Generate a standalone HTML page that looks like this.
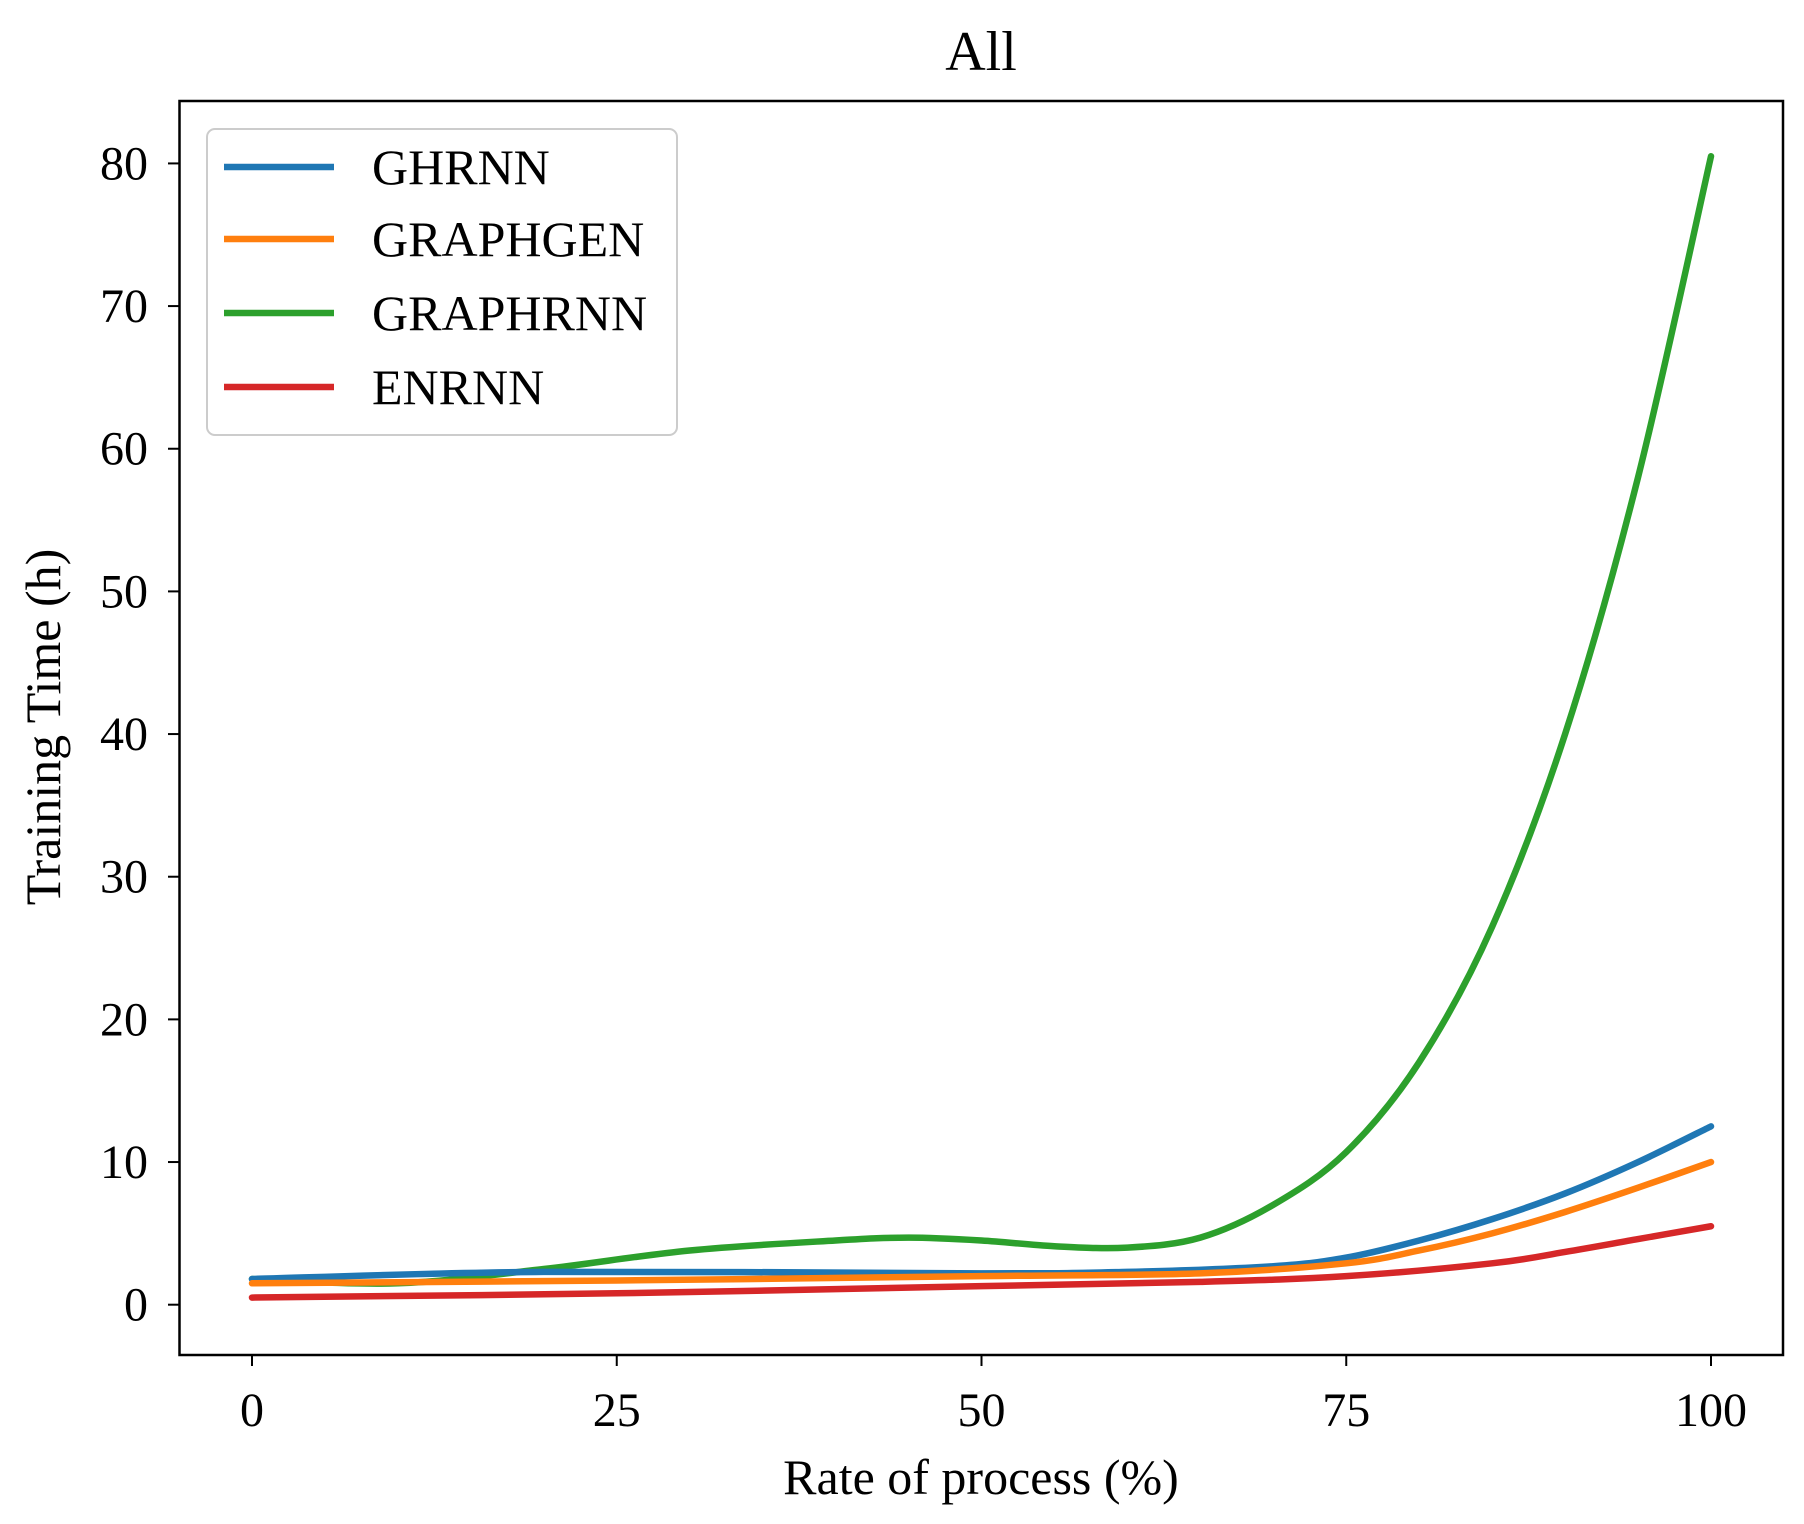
<!DOCTYPE html>
<html><head><meta charset="utf-8"><style>
html,body{margin:0;padding:0;background:#fff;}
svg{display:block;font-family:"Liberation Serif",serif;}
</style></head><body>
<svg id="s" width="1804" height="1524" viewBox="0 0 1804 1524" xmlns="http://www.w3.org/2000/svg">
<rect width="1804" height="1524" fill="#fff"/>
<text x="981" y="70" font-size="56" text-anchor="middle">All</text>
<g id="curves" fill="none" stroke-width="6.5" stroke-linecap="round"></g>
<rect x="179.5" y="101" width="1603.5" height="1254" fill="none" stroke="#000" stroke-width="2.5"/>
<g id="ticks" stroke="#000" stroke-width="2"></g>
<g id="labels" font-size="48"></g>
<text x="981" y="1494" font-size="50" text-anchor="middle">Rate of process (%)</text>
<text transform="translate(60,727) rotate(-90)" font-size="50" text-anchor="middle">Training Time (h)</text>
<rect x="207" y="129" width="470" height="306" rx="8" fill="#fff" fill-opacity="0.9" stroke="#ccc" stroke-width="2"/>
<g stroke-width="6.5">
<line x1="224" y1="167" x2="334" y2="167" stroke="#1f77b4"/>
<line x1="224" y1="239" x2="334" y2="239" stroke="#ff7f0e"/>
<line x1="224" y1="313" x2="334" y2="313" stroke="#2ca02c"/>
<line x1="224" y1="387" x2="334" y2="387" stroke="#d62728"/>
</g>
<g font-size="50">
<text x="372" y="184">GHRNN</text>
<text x="372" y="256">GRAPHGEN</text>
<text x="372" y="330">GRAPHRNN</text>
<text x="372" y="404">ENRNN</text>
</g>
</svg>
<script>
var NS="http://www.w3.org/2000/svg";
function X(v){return 252+v*14.59;}
function Y(v){return 1304.7-v*14.266;}
function path(pts){
 var P=pts.map(function(p){return [X(p[0]),Y(p[1])];});
 var d="M"+P[0][0]+","+P[0][1];
 for(var i=0;i<P.length-1;i++){
  var p0=P[i-1]||P[i],p1=P[i],p2=P[i+1],p3=P[i+2]||P[i+1];
  d+=" C"+(p1[0]+(p2[0]-p0[0])/6)+","+(p1[1]+(p2[1]-p0[1])/6)+" "+(p2[0]-(p3[0]-p1[0])/6)+","+(p2[1]-(p3[1]-p1[1])/6)+" "+p2[0]+","+p2[1];
 }
 return d;
}
var S={
"#2ca02c":[[0,1.8],[10,1.5],[20,2.5],[30,3.8],[40,4.5],[45,4.7],[50,4.5],[55,4.1],[60,4.0],[65,4.7],[70,7.0],[75,10.7],[80,17],[85,26.5],[90,40],[95,58],[100,80.5]],
"#1f77b4":[[0,1.8],[20,2.3],[50,2.2],[60,2.3],[70,2.7],[75,3.3],[80,4.5],[85,6],[90,7.8],[95,10],[100,12.5]],
"#ff7f0e":[[0,1.5],[25,1.7],[50,2.0],[65,2.2],[75,2.9],[80,3.8],[85,5],[90,6.5],[95,8.2],[100,10]],
"#d62728":[[0,0.5],[25,0.8],[50,1.3],[65,1.6],[75,2.0],[85,2.9],[90,3.7],[95,4.6],[100,5.5]]
};
var g=document.getElementById("curves");
["#2ca02c","#1f77b4","#ff7f0e","#d62728"].forEach(function(c){
 var p=document.createElementNS(NS,"path");p.setAttribute("d",path(S[c]));p.setAttribute("stroke",c);g.appendChild(p);
});
var t=document.getElementById("ticks"),l=document.getElementById("labels");
for(var i=0;i<=4;i++){
 var x=X(i*25);
 var ln=document.createElementNS(NS,"line");ln.setAttribute("x1",x);ln.setAttribute("x2",x);ln.setAttribute("y1",1355);ln.setAttribute("y2",1366);t.appendChild(ln);
 var tx=document.createElementNS(NS,"text");tx.setAttribute("x",x);tx.setAttribute("y",1426);tx.setAttribute("text-anchor","middle");tx.textContent=i*25;l.appendChild(tx);
}
for(var v=0;v<=80;v+=10){
 var y=Y(v);
 var ln=document.createElementNS(NS,"line");ln.setAttribute("x1",168);ln.setAttribute("x2",179.5);ln.setAttribute("y1",y);ln.setAttribute("y2",y);t.appendChild(ln);
 var tx=document.createElementNS(NS,"text");tx.setAttribute("x",148);tx.setAttribute("y",y+16);tx.setAttribute("text-anchor","end");tx.textContent=v;l.appendChild(tx);
}
</script>
</body></html>
